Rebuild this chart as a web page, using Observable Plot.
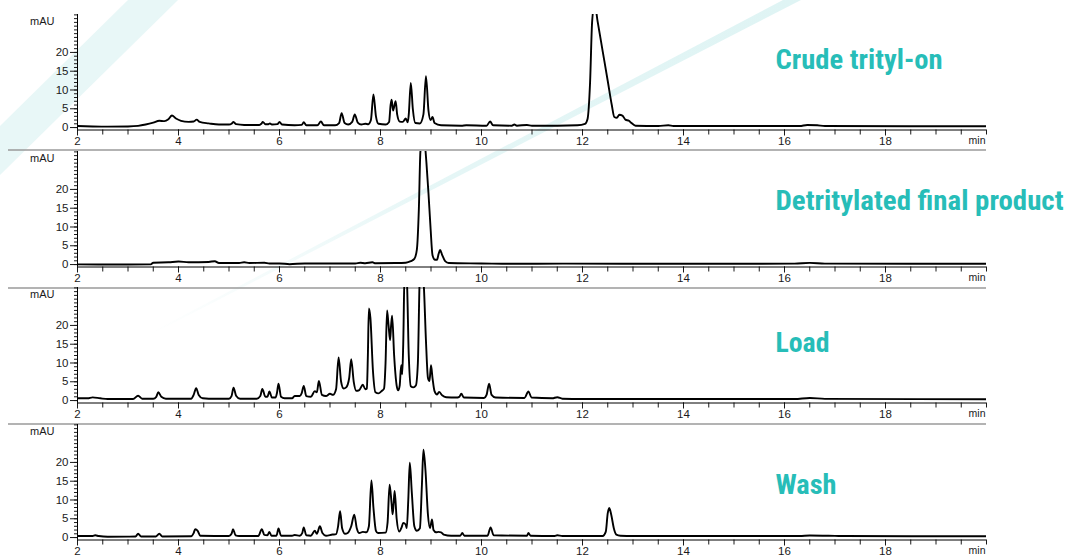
<!DOCTYPE html>
<html>
<head>
<meta charset="utf-8">
<script src="https://cdn.jsdelivr.net/npm/d3@7"></script>
<script src="https://cdn.jsdelivr.net/npm/@observablehq/plot@0.6"></script>
<style>
  html, body { margin: 0; padding: 0; background: #fff; }
  #chart { position: relative; width: 1066px; height: 558px; overflow: hidden; font-family: "Liberation Sans", Arial, sans-serif; }
  #chart > svg { position: absolute; left: 0; }
</style>
</head>
<body>
<div id="chart"></div>
<script>
// Retention time (min) vs absorbance (mAU) for each fraction
const crudeTrace = [
  [2.0,0.4],[2.3,0.3],[2.6,0.25],[3.0,0.3],[3.2,0.45],[3.35,0.8],[3.5,1.3],[3.62,1.8],[3.72,1.7],[3.8,2.2],
  [3.87,3.2],[3.95,2.4],[4.05,1.8],[4.2,1.5],[4.3,1.6],[4.36,2.1],[4.42,1.5],[4.6,1.1],[4.8,0.8],[5.0,0.8],
  [5.05,1.0],[5.09,1.5],[5.14,0.9],[5.3,0.7],[5.6,0.7],[5.64,1.0],[5.67,1.5],[5.72,0.9],[5.78,0.9],[5.81,1.1],
  [5.85,0.8],[5.96,0.9],[6.0,1.5],[6.05,0.8],[6.3,0.6],[6.44,0.7],[6.48,1.4],[6.53,0.6],[6.75,0.6],[6.82,1.6],
  [6.88,0.6],[7.1,0.6],[7.18,1.2],[7.23,3.8],[7.29,1.2],[7.36,0.8],[7.44,1.5],[7.49,3.5],[7.55,1.3],[7.62,0.8],
  [7.7,1.0],[7.76,0.9],[7.81,2.0],[7.86,8.8],[7.91,3.0],[7.96,1.0],[8.1,0.8],[8.17,1.5],[8.2,6.0],[8.22,7.4],
  [8.25,4.5],[8.27,5.5],[8.3,7.0],[8.33,3.5],[8.38,1.6],[8.44,1.5],[8.5,2.4],[8.54,1.4],[8.56,3.5],[8.6,11.9],
  [8.64,5.0],[8.69,1.2],[8.78,1.1],[8.85,3.5],[8.9,13.7],[8.95,4.5],[8.99,2.0],[9.03,2.8],[9.07,1.2],[9.2,0.6],
  [9.6,0.5],[9.7,0.6],[10.1,0.5],[10.17,1.6],[10.23,0.6],[10.6,0.5],[10.65,0.8],[10.7,0.5],[10.9,0.7],[11.0,0.5],
  [11.5,0.5],[11.9,0.6],[12.05,1.0],[12.1,2.3],[12.15,12],[12.19,28],[12.24,33],[12.3,28.2],[12.4,20.3],[12.5,12.4],
  [12.58,6],[12.63,2.8],[12.68,2.6],[12.73,3.4],[12.79,3.2],[12.85,2.1],[12.92,1.8],[12.97,1.2],[13.05,0.5],[13.5,0.4],
  [13.7,0.6],[13.8,0.4],[16.3,0.4],[16.45,0.7],[16.65,0.6],[16.8,0.4],[20.0,0.35]
];

const detritylatedTrace = [
  [2.0,0.05],[3.0,0.0],[3.45,0.05],[3.5,0.5],[3.8,0.6],[4.0,0.8],[4.2,0.6],[4.6,0.7],[4.72,0.9],[4.8,0.4],
  [5.2,0.4],[5.3,0.6],[5.4,0.4],[5.7,0.5],[5.8,0.3],[6.0,0.3],[6.2,0.1],[6.5,0.3],[7.0,0.3],[7.5,0.3],
  [7.6,0.5],[7.7,0.35],[7.84,0.6],[7.9,0.35],[8.3,0.4],[8.5,0.5],[8.6,0.9],[8.67,1.5],[8.72,4],[8.76,15],
  [8.79,30],[8.84,34.5],[8.88,32],[8.91,27],[8.95,19],[8.99,10],[9.03,2.5],[9.08,1.3],[9.12,1.3],[9.15,2.8],
  [9.18,3.9],[9.22,2.6],[9.28,0.9],[9.35,0.4],[10.0,0.3],[10.6,0.2],[11.6,0.25],[14.0,0.2],[16.2,0.25],[16.5,0.45],
  [16.8,0.25],[20.0,0.2]
];

const loadTrace = [
  [2.0,0.6],[2.2,0.6],[2.3,0.85],[2.45,0.6],[2.6,0.4],[3.1,0.4],[3.2,1.3],[3.28,0.5],[3.5,0.5],[3.56,1.0],
  [3.6,2.2],[3.66,1.0],[3.75,0.5],[4.25,0.5],[4.3,1.5],[4.35,3.3],[4.4,1.5],[4.48,0.6],[4.6,0.5],[5.0,0.5],
  [5.05,1.2],[5.09,3.4],[5.14,1.3],[5.22,0.5],[5.55,0.5],[5.62,1.2],[5.66,3.1],[5.72,1.0],[5.76,1.0],[5.8,2.4],
  [5.85,0.8],[5.92,0.8],[5.95,2.0],[5.98,4.5],[6.03,1.0],[6.1,0.6],[6.25,0.6],[6.3,1.2],[6.4,1.2],[6.44,2.0],
  [6.48,3.9],[6.53,1.2],[6.62,1.0],[6.7,2.5],[6.74,2.2],[6.78,5.2],[6.84,1.5],[6.92,1.2],[7.0,1.8],[7.06,1.5],
  [7.12,3],[7.17,11.5],[7.22,5],[7.27,3.2],[7.32,3.5],[7.38,6],[7.42,11.0],[7.47,5],[7.52,2.6],[7.58,2.8],
  [7.65,4.2],[7.7,3.0],[7.73,3.2],[7.75,12],[7.77,24.5],[7.8,22],[7.85,8],[7.9,2.2],[7.96,1.9],[8.02,2.5],
  [8.07,3.2],[8.1,10],[8.13,24.0],[8.16,20],[8.19,16.1],[8.21,20],[8.23,22.6],[8.27,12],[8.32,4],[8.35,2.7],
  [8.38,4],[8.41,9.4],[8.43,7],[8.45,15],[8.48,36],[8.52,33],[8.56,12],[8.6,3.8],[8.65,3.5],[8.7,4.0],
  [8.74,10],[8.78,34],[8.82,37],[8.86,30],[8.9,16],[8.94,6],[8.97,5.2],[9.0,9.4],[9.03,6],[9.07,2.5],
  [9.12,1.6],[9.16,2.3],[9.22,1.4],[9.3,0.9],[9.5,0.8],[9.56,1.0],[9.6,1.8],[9.65,0.8],[10.05,0.7],[10.1,1.5],
  [10.15,4.5],[10.2,1.5],[10.28,0.8],[10.85,0.7],[10.93,2.4],[10.99,0.8],[11.4,0.6],[11.5,0.9],[11.6,0.5],[12.0,0.4],
  [16.2,0.4],[16.5,0.7],[16.8,0.45],[20.0,0.35]
];

const washTrace = [
  [2.0,0.4],[2.3,0.4],[2.35,0.6],[2.42,0.4],[2.6,0.2],[3.0,0.25],[3.15,0.3],[3.2,1.0],[3.26,0.3],[3.55,0.3],
  [3.62,1.0],[3.68,0.3],[4.25,0.35],[4.3,1.2],[4.33,2.2],[4.38,1.8],[4.43,0.5],[5.0,0.4],[5.05,1.0],[5.08,2.2],
  [5.13,0.6],[5.2,0.4],[5.58,0.4],[5.65,2.2],[5.7,0.7],[5.76,0.6],[5.8,1.5],[5.84,0.5],[5.94,0.5],[5.98,2.4],
  [6.03,0.5],[6.25,0.5],[6.3,0.7],[6.4,0.5],[6.45,1.2],[6.48,2.7],[6.53,0.6],[6.62,0.5],[6.7,1.8],[6.74,1.0],
  [6.8,3.0],[6.85,1.2],[6.92,0.5],[7.05,0.8],[7.12,0.9],[7.16,3],[7.2,7.0],[7.24,2.5],[7.3,1.0],[7.35,1.2],
  [7.42,3],[7.48,6.1],[7.53,2.5],[7.58,1.2],[7.65,1.5],[7.72,1.4],[7.77,3],[7.82,15.2],[7.86,8],[7.91,1.8],
  [7.95,1.2],[8.1,1.3],[8.14,4],[8.18,14.1],[8.22,9],[8.24,6.2],[8.26,9],[8.28,12.4],[8.32,5],[8.37,1.6],
  [8.42,2.8],[8.45,3.9],[8.5,3.4],[8.52,2.5],[8.55,10],[8.58,19.9],[8.62,12],[8.67,3],[8.72,1.8],[8.78,2.5],
  [8.82,14],[8.85,23.4],[8.89,18],[8.94,6],[8.98,2.5],[9.02,4.8],[9.05,2.0],[9.1,1.4],[9.15,1.5],[9.2,1.4],
  [9.25,0.8],[9.4,0.5],[9.58,0.5],[9.62,1.2],[9.66,0.5],[10.12,0.5],[10.18,2.7],[10.24,0.6],[10.9,0.5],[10.93,1.2],
  [10.97,0.5],[11.45,0.4],[11.5,0.6],[11.6,0.4],[12.4,0.4],[12.46,1.5],[12.5,6.5],[12.53,7.9],[12.57,6],[12.62,2.5],
  [12.67,0.8],[12.75,0.5],[13.0,0.4],[16.3,0.4],[16.5,0.55],[17.0,0.45],[17.2,0.4],[20.0,0.35]
];

const panelLabels = ["Crude trityl-on", "Detritylated final product", "Load", "Wash"];
const traces = [crudeTrace, detritylatedTrace, loadTrace, washTrace];

// Axis ticks
const majorMin = [2, 4, 6, 8, 10, 12, 14, 16, 18];
const minorMin = d3.range(2, 20.001, 0.5);
const majorMAU = [0, 5, 10, 15, 20];
const minorMAU = d3.range(0, 31, 1);
const xDomain = [2, 20];
const yDomain = [-0.65, 30.1];

// Layout of the stacked panels
const panelTops = [0, 137, 273, 410];
const labelDy = [54, 58, 64, 69];
const labelWidths = [167, 288, 54, 61];
const teal = "#27bdb8";
const labelFont = "'Roboto Condensed', 'Liberation Sans Narrow', 'Arial Narrow', Roboto, sans-serif";

const chart = d3.select("#chart");

// Decorative backdrop: a pale diagonal band, a fading thin streak, and panel separators
const bg = chart.append("svg").attr("width", 1066).attr("height", 558).style("top", "0px");
const grad = bg.append("defs").append("linearGradient")
  .attr("id", "streakFade").attr("gradientUnits", "userSpaceOnUse")
  .attr("x1", 150).attr("y1", 334).attr("x2", 795).attr("y2", 0);
grad.append("stop").attr("offset", "0").attr("stop-color", "#dff4f4").attr("stop-opacity", 0);
grad.append("stop").attr("offset", "0.45").attr("stop-color", "#dff4f4").attr("stop-opacity", 0.8);
grad.append("stop").attr("offset", "1").attr("stop-color", "#dff4f4").attr("stop-opacity", 1);
bg.append("polygon").attr("points", "128,0 178,0 0,175 0,126").attr("fill", "#e8f7f7");
bg.append("polygon").attr("points", "783,0 801,0 150,335 150,333").attr("fill", "url(#streakFade)");
for (const y of [150, 288, 424]) {
  bg.append("line").attr("x1", 8).attr("x2", 986).attr("y1", y).attr("y2", y)
    .attr("stroke", "#9a9a9a").attr("stroke-width", 1.6);
}

traces.forEach((trace, i) => {
  const svg = Plot.plot({
    width: 1066,
    height: 150,
    marginLeft: 77,
    marginRight: 80,
    marginTop: 14,
    marginBottom: 20.5,
    style: {background: "transparent", overflow: "visible", color: "#1a1a1a", fontFamily: "'Liberation Sans', Arial, sans-serif"},
    x: {domain: xDomain},
    y: {domain: yDomain},
    marks: [
      Plot.axisY(minorMAU, {tickSize: 3, tickFormat: () => "", label: null}),
      Plot.axisY(majorMAU, {tickSize: 7, tickPadding: 2, fontSize: 11.5, label: null}),
      Plot.axisX(minorMin, {tickSize: 5, tickFormat: () => "", label: null}),
      Plot.axisX(majorMin, {tickSize: 6, tickPadding: 1, fontSize: 11.5, label: null}),
      Plot.ruleX([xDomain[0]], {stroke: "#000"}),
      Plot.ruleY([yDomain[0]], {stroke: "#000"}),
      Plot.text(["mAU"], {frameAnchor: "top-left", dx: -23, dy: 7, textAnchor: "end", lineAnchor: "middle", fontSize: 11}),
      Plot.text(["min"], {frameAnchor: "bottom-right", dx: -1, dy: 7, textAnchor: "end", lineAnchor: "top", fontSize: 10.5}),
      Plot.line(trace, {x: d => d[0], y: d => d[1], curve: "monotone-x", stroke: "#000", strokeWidth: 1.9, clip: true}),
      Plot.text([panelLabels[i]], {
        frameAnchor: "top-left", dx: 698, dy: labelDy[i], textAnchor: "start", lineAnchor: "bottom",
        fill: teal, fontSize: 27, fontWeight: "bold", fontFamily: labelFont
      })
    ]
  });
  svg.style.top = panelTops[i] + "px";
  chart.node().appendChild(svg);
  d3.select(svg).selectAll('g[aria-label="text"] text')
    .filter(function () { return this.textContent === panelLabels[i]; })
    .attr("textLength", labelWidths[i])
    .attr("lengthAdjust", "spacingAndGlyphs");
});
</script>
</body>
</html>
